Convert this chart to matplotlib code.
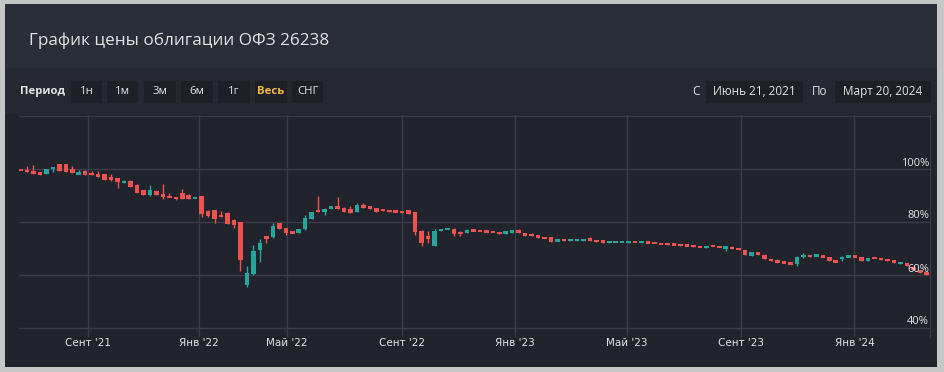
import matplotlib
matplotlib.use("Agg")
import matplotlib.pyplot as plt
from matplotlib.patches import Rectangle
import matplotlib.transforms as mtransforms
from matplotlib import font_manager

# ---------------- data (weekly candles, % of face value) ----------------
opens = [99.7, 99.6, 99.4, 98.9, 98.2, 100.0, 101.9, 101.9, 99.9, 98.3,
         99.4, 98.4, 98.1, 98.1, 96.9, 96.5, 95.1, 95.3, 94.1, 92.1,
         90.3, 91.8, 90.3, 89.8, 89.5, 91.1, 90.1, 89.0, 89.8, 84.2,
         84.4, 82.6, 83.5, 80.8, 80.0, 56.2, 60.3, 69.4, 74.5, 74.2,
         79.7, 77.6, 76.3, 76.0, 77.2, 81.1, 84.3, 83.8, 85.0, 85.8,
         85.3, 84.8, 83.8, 86.3, 85.8, 85.3, 84.8, 84.5, 84.2, 84.2,
         84.5, 83.7, 76.6, 74.7, 70.9, 76.7, 77.3, 77.5, 75.8, 75.9,
         77.0, 76.8, 76.5, 76.4, 76.3, 75.6, 75.8, 77.1, 75.8, 75.6,
         75.1, 74.3, 74.3, 72.9, 73.3, 72.9, 73.0, 73.0, 74.1, 73.2,
         73.1, 72.3, 72.4, 72.4, 72.3, 72.6, 72.3, 72.5, 72.1, 72.0,
         71.9, 71.7, 71.4, 71.3, 71.2, 70.9, 70.2, 71.2, 70.9, 69.9,
         70.7, 70.2, 69.4, 67.2, 68.7, 67.7, 65.9, 65.2, 65.0, 64.6,
         64.2, 67.0, 67.3, 67.3, 67.4, 66.7, 65.2, 65.9, 66.9, 67.1,
         66.7, 65.4, 66.7, 66.3, 65.9, 65.7, 64.4, 64.6, 63.2, 61.9,
         60.9]
highs = [99.9, 101.2, 101.4, 99.0, 99.9, 100.9, 102.0, 102.0, 101.0, 99.6,
         99.5, 99.2, 99.4, 98.2, 98.2, 96.6, 96.0, 96.0, 94.3, 92.2,
         93.9, 92.0, 94.3, 91.0, 89.6, 92.3, 90.5, 89.2, 89.9, 84.4,
         84.5, 84.0, 83.6, 81.0, 80.1, 63.4, 71.2, 73.7, 74.6, 79.7,
         79.8, 77.7, 76.4, 77.5, 82.8, 83.8, 89.8, 85.2, 86.0, 89.3,
         85.5, 86.0, 87.3, 87.0, 86.0, 85.4, 84.9, 84.6, 84.3, 84.3,
         84.6, 83.8, 76.8, 76.5, 77.5, 77.4, 77.7, 77.6, 76.7, 77.2,
         77.1, 76.9, 76.6, 76.5, 76.4, 76.5, 77.0, 77.2, 75.9, 75.7,
         75.2, 74.4, 74.4, 73.3, 73.4, 73.4, 73.4, 73.4, 74.2, 73.3,
         73.2, 72.7, 72.7, 72.8, 72.8, 72.7, 72.7, 72.6, 72.2, 72.1,
         72.0, 71.8, 71.5, 71.4, 71.3, 71.0, 71.0, 71.3, 71.0, 71.0,
         70.8, 70.3, 69.5, 68.8, 68.8, 67.8, 66.0, 66.0, 65.4, 64.7,
         67.3, 68.2, 67.7, 67.9, 67.5, 66.8, 65.8, 67.3, 67.3, 67.2,
         66.8, 66.5, 66.8, 66.4, 66.0, 65.8, 64.8, 64.7, 63.3, 62.0,
         61.0]
lows = [99.5, 99.0, 98.2, 97.9, 98.0, 98.8, 99.4, 98.9, 98.6, 98.2,
        97.9, 97.9, 97.1, 95.8, 95.4, 92.9, 94.6, 93.1, 91.1, 90.3,
        90.0, 90.1, 88.6, 89.3, 88.3, 88.8, 88.8, 88.9, 81.8, 81.8,
        79.5, 81.8, 79.1, 77.6, 61.6, 55.4, 60.0, 65.0, 72.0, 74.0,
        77.2, 75.0, 75.7, 75.8, 77.0, 81.0, 83.8, 82.6, 84.8, 85.0,
        83.9, 83.3, 83.6, 85.3, 85.0, 83.8, 84.3, 83.8, 83.8, 83.5,
        83.0, 75.1, 70.9, 72.2, 70.8, 76.5, 77.2, 74.8, 74.9, 75.8,
        76.6, 76.5, 76.3, 76.2, 75.4, 75.5, 75.7, 75.8, 74.8, 74.8,
        74.1, 73.8, 72.3, 72.8, 73.0, 72.8, 72.9, 72.9, 72.8, 72.6,
        72.1, 72.2, 72.3, 72.3, 72.2, 72.4, 72.2, 72.0, 71.9, 71.6,
        71.5, 71.2, 71.1, 70.9, 70.7, 70.4, 70.1, 70.9, 70.4, 69.2,
        69.7, 69.4, 67.4, 67.1, 67.4, 65.9, 65.2, 64.6, 64.4, 64.2,
        63.4, 66.4, 66.8, 67.0, 66.7, 65.4, 64.8, 65.2, 66.8, 66.8,
        65.4, 65.3, 66.3, 65.8, 65.4, 64.4, 64.3, 63.4, 62.0, 60.6,
        60.1]
closes = [99.5, 99.0, 98.2, 97.9, 99.9, 100.6, 99.4, 98.9, 98.6, 98.4,
          97.9, 97.9, 97.1, 95.8, 95.8, 95.0, 95.3, 93.1, 91.1, 90.3,
          92.1, 90.1, 89.6, 89.3, 88.8, 88.8, 88.8, 89.1, 82.9, 82.4,
          81.0, 81.8, 79.1, 78.7, 65.7, 60.6, 69.2, 72.2, 73.8, 78.5,
          77.2, 75.7, 75.7, 77.2, 81.4, 83.6, 83.8, 85.0, 86.0, 85.0,
          83.9, 83.3, 86.3, 85.3, 85.0, 83.8, 84.3, 83.8, 83.8, 83.5,
          83.0, 76.3, 72.0, 73.5, 76.7, 77.2, 77.5, 75.5, 75.7, 77.0,
          76.6, 76.5, 76.3, 76.2, 75.4, 76.4, 76.9, 75.8, 74.8, 74.8,
          74.1, 73.8, 72.3, 73.2, 73.0, 73.3, 73.3, 73.3, 72.8, 72.6,
          72.1, 72.6, 72.6, 72.7, 72.7, 72.4, 72.6, 72.0, 71.9, 71.6,
          71.5, 71.2, 71.1, 70.9, 70.7, 70.4, 70.9, 70.9, 70.4, 70.9,
          69.7, 69.4, 67.4, 68.7, 67.4, 65.9, 65.2, 65.0, 64.4, 64.2,
          66.9, 67.2, 67.1, 67.5, 66.7, 65.4, 65.0, 66.9, 67.2, 66.8,
          65.4, 66.4, 66.3, 65.8, 65.4, 64.4, 64.6, 63.4, 62.0, 60.6,
          60.1]

tick_labels = ["Сент '21", "Янв '22", "Май '22", "Сент '22",
               "Янв '23", "Май '23", "Сент '23", "Янв '24"]
tick_pos = [10.4, 27.6, 41.2, 59.0, 76.4, 93.7, 111.4, 128.9]
y_levels = [40, 60, 80, 100, 120]
y_labels = ["40%", "60%", "80%", "100%", ""]

title = "График цены облигации ОФЗ 26238"
period_buttons = ["1н", "1м", "3м", "6м", "1г", "Весь", "СНГ"]
date_from = "Июнь 21, 2021"
date_to = "Март 20, 2024"

# ---------------- style ----------------
UP = "#26a69a"
DOWN = "#ef5350"
GRID = "#3a3d48"
TXT = "#e4e4e4"

names = {f.name for f in font_manager.fontManager.ttflist}
MAIN = ["Open Sans", "DejaVu Sans"] if "Open Sans" in names else ["DejaVu Sans"]
NARROW = ["Liberation Sans Narrow", "DejaVu Sans"] if "Liberation Sans Narrow" in names else ["DejaVu Sans"]

W, H = 944, 372
fig = plt.figure(figsize=(W / 100, H / 100), dpi=100)
fig.patch.set_facecolor("#c6c6c6")

bg = fig.add_axes([0, 0, 1, 1])
bg.set_xlim(0, W)
bg.set_ylim(H, 0)
bg.axis("off")

bg.add_patch(Rectangle((5, 4), 932, 363, color="#2a2e39", lw=0))
bg.add_patch(Rectangle((5, 68), 932, 46, color="#262933", lw=0))
bg.add_patch(Rectangle((5, 114), 932, 253, color="#21242d", lw=0))

bg.text(29, 41, title, fontsize=12.3, color=TXT, family=MAIN, va="center", ha="left")

bg.text(20, 91.5, "Период", fontsize=8.2, color=TXT, family=MAIN, weight="bold",
        va="center", ha="left")
bx = [71, 107, 144, 181, 218, 255, 292]
bw = [31, 31, 32, 32, 32, 32, 31]
for x0, w, lab in zip(bx, bw, period_buttons):
    bg.add_patch(Rectangle((x0, 81), w, 22, color="#1d2027", lw=0))
    active = lab == "Весь"
    bg.text(x0 + w / 2, 91.5, lab, fontsize=8.2, family=MAIN,
            color="#f5b83d" if active else TXT,
            weight="bold" if active else "normal", va="center", ha="center")

bg.text(692, 91.5, "С", fontsize=8.5, color=TXT, family=MAIN, va="center", ha="left")
bg.add_patch(Rectangle((706, 81), 97, 22, color="#1d2027", lw=0))
bg.text(754.5, 91.5, date_from, fontsize=8.5, color=TXT, family=MAIN, va="center", ha="center")
bg.text(812, 91.5, "По", fontsize=8.5, color=TXT, family=MAIN, va="center", ha="left")
bg.add_patch(Rectangle((835, 81), 96, 22, color="#1d2027", lw=0))
bg.text(883, 91.5, date_to, fontsize=8.5, color=TXT, family=MAIN, va="center", ha="center")

# ---------------- chart ----------------
L, R, T, B = 19, 930, 115, 337
ax = fig.add_axes([L / W, (H - B) / H, (R - L) / W, (B - T) / H])
ax.set_facecolor("none")
step = 6.47
ax.set_xlim(-(20.5 - L) / step, (R - 20.5) / step)
ax.set_ylim(100 - (B - 169) / 2.65, 100 + (169 - T) / 2.65)

for v in y_levels:
    ax.axhline(v, color=GRID, lw=1, zorder=0)
for p in tick_pos:
    ax.axvline(p, color=GRID, lw=1, zorder=0)

for i, (o, h, l, c) in enumerate(zip(opens, highs, lows, closes)):
    col = UP if c >= o else DOWN
    ax.vlines(i, l, h, color=col, lw=1, zorder=2)
    lo, hi = min(o, c), max(o, c)
    mn = 0.9
    if hi - lo < mn:
        mid = (hi + lo) / 2
        lo, hi = mid - mn / 2, mid + mn / 2
    ax.bar(i, hi - lo, bottom=lo, width=0.7, color=col, lw=0, zorder=3)

for s in ["top", "left", "bottom"]:
    ax.spines[s].set_visible(False)
ax.spines["right"].set_color(GRID)

ax.set_xticks(tick_pos)
ax.set_xticklabels(tick_labels, family=NARROW, fontsize=7.5, color=TXT)
ax.tick_params(axis="x", length=0, pad=1)
ax.set_yticks([])

off = mtransforms.offset_copy(ax.get_yaxis_transform(), fig=fig, x=-1, y=6, units="dots")
for v, lab in zip(y_levels, y_labels):
    ax.text(1.0, v, lab, transform=off, ha="right", va="center",
            fontsize=8, color=TXT, family=MAIN, zorder=5)

fig.savefig("out.png", dpi=100, facecolor=fig.get_facecolor())
